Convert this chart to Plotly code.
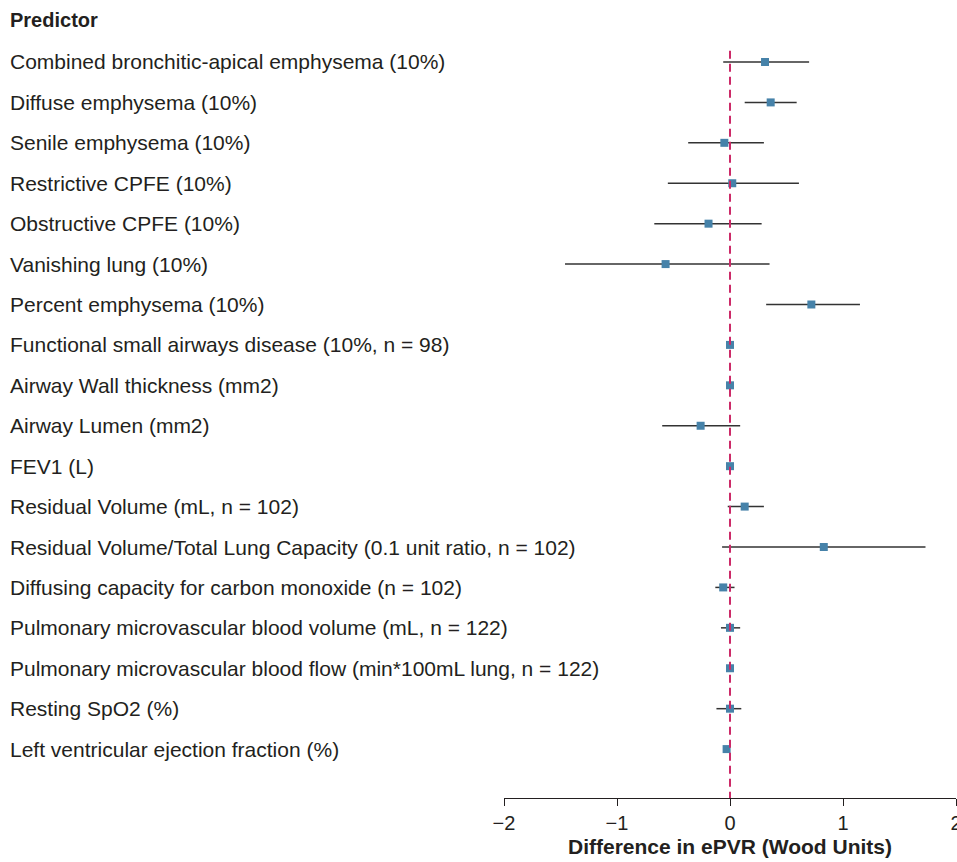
import plotly.graph_objects as go

predictors = [
    "Combined bronchitic-apical emphysema (10%)",
    "Diffuse emphysema (10%)",
    "Senile emphysema (10%)",
    "Restrictive CPFE (10%)",
    "Obstructive CPFE (10%)",
    "Vanishing lung (10%)",
    "Percent emphysema (10%)",
    "Functional small airways disease (10%, n = 98)",
    "Airway Wall thickness (mm2)",
    "Airway Lumen (mm2)",
    "FEV1 (L)",
    "Residual Volume (mL, n = 102)",
    "Residual Volume/Total Lung Capacity (0.1 unit ratio, n = 102)",
    "Diffusing capacity for carbon monoxide (n = 102)",
    "Pulmonary microvascular blood volume (mL, n = 122)",
    "Pulmonary microvascular blood flow (min*100mL lung, n = 122)",
    "Resting SpO2 (%)",
    "Left ventricular ejection fraction (%)",
]
estimate = [0.31, 0.36, -0.05, 0.02, -0.19, -0.57, 0.72, 0.00, 0.00, -0.26, 0.00, 0.13, 0.83, -0.06, 0.00, 0.00, 0.00, -0.03]
ci_low = [-0.06, 0.13, -0.37, -0.55, -0.67, -1.46, 0.32, -0.01, -0.01, -0.60, -0.01, -0.02, -0.07, -0.13, -0.08, -0.01, -0.12, -0.04]
ci_high = [0.70, 0.59, 0.30, 0.61, 0.28, 0.35, 1.15, 0.01, 0.01, 0.09, 0.01, 0.30, 1.73, 0.04, 0.09, 0.01, 0.10, -0.02]
x_ticks = [-2, -1, 0, 1, 2]
x_tick_labels = ["\u22122", "\u22121", "0", "1", "2"]

rows = list(range(len(predictors)))
plus = [h - e for h, e in zip(ci_high, estimate)]
minus = [e - l for e, l in zip(estimate, ci_low)]

FONT = "Liberation Sans, Arial, Helvetica, sans-serif"
W, H = 957, 862
ML, MR, MT, MB = 504, 1, 40, 64
plot_w = W - ML - MR
plot_h = H - MT - MB

fig = go.Figure()
fig.add_trace(go.Scatter(
    x=estimate, y=rows, mode="markers",
    marker=dict(symbol="square", size=8, color="#4682a9"),
    error_x=dict(type="data", symmetric=False, array=plus, arrayminus=minus,
                 color="#333333", thickness=1.5, width=0),
    showlegend=False, hoverinfo="skip",
))

fig.add_shape(type="line", x0=0, x1=0, xref="x", yref="y", y0=-0.28, y1=18.21,
              line=dict(color="#cc2a68", width=2, dash="8px,5px"), layer="above")

for r, name in zip(rows, predictors):
    fig.add_annotation(x=(8 - ML) / plot_w, xref="paper", y=r, yref="y",
                       text=name, showarrow=False, xanchor="left", yanchor="middle",
                       font=dict(family=FONT, size=21, color="#231f20"))
fig.add_annotation(x=(8 - ML) / plot_w, xref="paper", y=1 + (MT - 20) / plot_h, yref="paper",
                   text="<b>Predictor</b>", showarrow=False, xanchor="left", yanchor="middle",
                   font=dict(family=FONT, size=20, color="#231f20"))

fig.update_layout(
    width=W, height=H, margin=dict(l=ML, r=MR, t=MT, b=MB, autoexpand=False),
    paper_bgcolor="white", plot_bgcolor="white",
    font=dict(family=FONT, color="#231f20"),
    xaxis=dict(range=[-2, 2], tickvals=x_ticks, ticktext=x_tick_labels,
               showgrid=False, zeroline=False, showline=True, linecolor="#231f20", linewidth=1,
               ticks="outside", ticklen=7, tickcolor="#231f20", tickfont=dict(size=20),
               ticklabeloverflow="allow", automargin=False,
               title=dict(text="<b>Difference in ePVR (Wood Units)</b>", font=dict(size=21), standoff=6)),
    yaxis=dict(range=[18.21, -0.544], showticklabels=False, showgrid=False, zeroline=False,
               showline=False, ticks="", automargin=False),
)

fig.write_html("out.html", config={"displayModeBar": False},
               post_script="document.body.style.margin='0';document.body.style.overflow='hidden';")
